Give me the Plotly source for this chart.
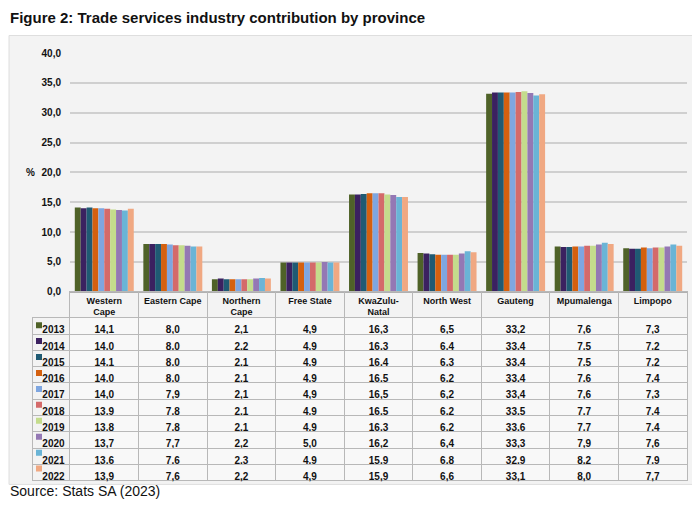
import plotly.graph_objects as go

provinces = ["Western Cape", "Eastern Cape", "Northern Cape", "Free State", "KwaZulu-Natal",
             "North West", "Gauteng", "Mpumalenga", "Limpopo"]
header_labels = ["Western<br>Cape", "Eastern Cape", "Northern<br>Cape", "Free State", "KwaZulu-<br>Natal",
                 "North West", "Gauteng", "Mpumalenga", "Limpopo"]
years = ["2013", "2014", "2015", "2016", "2017", "2018", "2019", "2020", "2021", "2022"]

v2013 = [14.1, 8.0, 2.1, 4.9, 16.3, 6.5, 33.2, 7.6, 7.3]
v2014 = [14.0, 8.0, 2.2, 4.9, 16.3, 6.4, 33.4, 7.5, 7.2]
v2015 = [14.1, 8.0, 2.1, 4.9, 16.4, 6.3, 33.4, 7.5, 7.2]
v2016 = [14.0, 8.0, 2.1, 4.9, 16.5, 6.2, 33.4, 7.6, 7.4]
v2017 = [14.0, 7.9, 2.1, 4.9, 16.5, 6.2, 33.4, 7.6, 7.3]
v2018 = [13.9, 7.8, 2.1, 4.9, 16.5, 6.2, 33.5, 7.7, 7.4]
v2019 = [13.8, 7.8, 2.1, 4.9, 16.3, 6.2, 33.6, 7.7, 7.4]
v2020 = [13.7, 7.7, 2.2, 5.0, 16.2, 6.4, 33.3, 7.9, 7.6]
v2021 = [13.6, 7.6, 2.3, 4.9, 15.9, 6.8, 32.9, 8.2, 7.9]
v2022 = [13.9, 7.6, 2.2, 4.9, 15.9, 6.6, 33.1, 8.0, 7.7]
series = [v2013, v2014, v2015, v2016, v2017, v2018, v2019, v2020, v2021, v2022]

colors = ["#4f6228", "#3b2160", "#1f5a73", "#d4600f", "#7ea6e0",
          "#d46a6a", "#c4dc8c", "#9478b4", "#6ab4d6", "#f0a882"]

FONT = "Liberation Sans, Arial, sans-serif"
# page has an 8px body margin, so the figure sits at (8, 8)
OFF = 8
W, H = 692, 500

def px_x(p):
    return (p - OFF) / W

def px_y(p):
    return 1 - (p - OFF) / H

TABLE_TOP, HEADER_H, ROW_H = 293, 26, 16.3
body_top = TABLE_TOP + HEADER_H
body_bot = body_top + ROW_H * len(years)

fig = go.Figure()

for yr, vals, col in zip(years, series, colors):
    fig.add_trace(go.Bar(x=provinces, y=vals, name=yr, marker_color=col,
                         marker_line_width=0, showlegend=False))

# colour keys in front of the years (sit under the see-through first table column)
fig.add_trace(go.Scatter(x=["key"] * len(years), y=years, mode="markers",
                         marker=dict(symbol="square", size=6, color=colors),
                         xaxis="x2", yaxis="y2", showlegend=False, hoverinfo="skip"))

# data table under the bars (plain strings, markup would grow the rows)
fmt = lambda v: f"{v:.1f}".replace(".", ",")
legend_col = ["\u2002" + y for y in years]
cols = [legend_col] + [[fmt(s[i]) for s in series] for i in range(len(provinces))]

fig.add_trace(go.Table(
    domain=dict(x=[px_x(32), px_x(687)], y=[px_y(body_bot + 6), px_y(TABLE_TOP)]),
    columnwidth=[38] + [68.6] * 9,
    header=dict(values=[""] * 10,
                fill_color="rgba(0,0,0,0)",
                line_color=["rgba(0,0,0,0)"] + ["#b8b8b8"] * 9,
                font=dict(family=FONT, size=9, color="#111"),
                height=HEADER_H),
    cells=dict(values=cols,
               fill_color=["rgba(0,0,0,0)"] + ["#f8f8f8"] * 9, line_color="#b8b8b8",
               font=dict(family=FONT, size=10, color="#111", weight="bold"),
               align="center", height=ROW_H),
))

fig.update_layout(
    width=W, height=H,
    margin=dict(l=0, r=0, t=0, b=0),
    paper_bgcolor="white",
    plot_bgcolor="rgba(0,0,0,0)",
    barmode="group", bargap=0.14, bargroupgap=0,
    separators=", ",
    font=dict(family=FONT, color="#111"),
    xaxis=dict(domain=[px_x(70), px_x(687)], showgrid=False,
               tickvals=provinces, ticktext=header_labels,
               tickfont=dict(family=FONT, size=9, color="#111", weight="bold"),
               showline=True, linecolor="#b0b0b0", ticks=""),
    yaxis=dict(domain=[px_y(293), px_y(49)], range=[0, 40], dtick=5, tickformat=".1f",
               showgrid=True, gridcolor="#cfcfcf", gridwidth=1.5, zeroline=False,
               tickfont=dict(family=FONT, size=10, color="#111", weight="bold"), ticks="",
               ticklabelstandoff=8),
    xaxis2=dict(domain=[px_x(34), px_x(44)], anchor="y2", visible=False),
    yaxis2=dict(domain=[px_y(body_bot), px_y(body_top)], anchor="x2", visible=False,
                type="category", categoryorder="array", categoryarray=years,
                range=[len(years) - 0.5, -0.5]),
    shapes=[dict(type="rect", xref="paper", yref="paper",
                 x0=px_x(9), x1=px_x(696), y0=px_y(490), y1=px_y(31),
                 fillcolor="#f3f3f3", line=dict(color="#dedede", width=1), layer="below")],
    annotations=[
        dict(text="<b>Figure 2: Trade services industry contribution by province</b>",
             xref="paper", yref="paper", x=px_x(8), y=px_y(13), xanchor="left", yanchor="middle",
             showarrow=False, font=dict(family="Liberation Sans Narrow, Arial Narrow, Liberation Sans",
                                        size=15, color="#111")),
        dict(text="Source: Stats SA (2023)", xref="paper", yref="paper",
             x=px_x(8), y=px_y(497), xanchor="left", yanchor="middle",
             showarrow=False, font=dict(family=FONT, size=14, color="#111")),
        dict(text="<b>%</b>", xref="paper", yref="y", x=px_x(31), y=20,
             xanchor="center", yanchor="middle", showarrow=False,
             font=dict(family=FONT, size=10, color="#111")),
    ],
)

fig.write_html("out.html")
